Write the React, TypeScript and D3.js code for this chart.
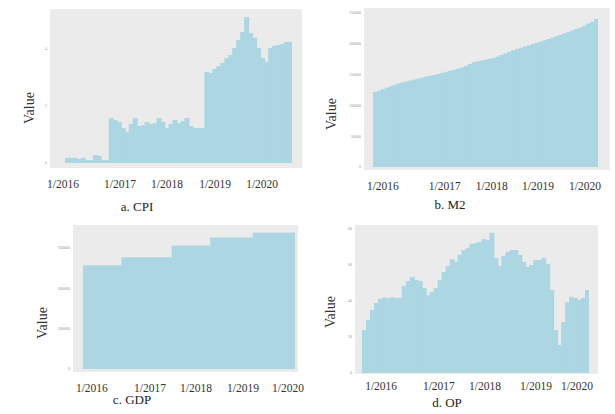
import * as d3 from "d3";

const dateLabels = ["1/2016", "1/2017", "1/2018", "1/2019", "1/2020"];

// a. CPI, monthly
const cpiValues = [
  0.18, 0.18, 0.18, 0.14, 0.18, 0.1, 0.1, 0.28, 0.25, 0.1, 0.1,
  1.58, 1.51, 1.44, 1.23, 1.09, 1.37, 1.58, 1.3, 1.33, 1.44,
  1.37, 1.4, 1.58, 1.44, 1.23, 1.37, 1.51, 1.4, 1.47, 1.58,
  1.3, 1.23, 1.23, 1.23,
  3.19, 3.16, 3.3, 3.4, 3.51, 3.68, 3.79, 4.04, 4.32, 4.6,
  5.12, 4.56, 4.39, 4.04, 3.68, 3.54, 4.04, 4.11, 4.14, 4.18,
  4.25, 4.25,
];
const cpiTickAt = [-0.5, 13.8, 25.6, 37.7, 49.5];
const cpiYTicks = [0, 2, 4];

// b. M2, monthly
const m2Values = [
  121800, 124000, 126500, 128800, 131200, 133500, 135900, 137500, 139000, 140500,
  142000, 143500, 145000, 146600, 148000, 149300, 151100, 152800, 154500, 156200,
  157800, 159500, 161300, 164000, 167200, 170400, 171700, 173000, 174300, 175600,
  177000, 179200, 181800, 184400, 187000, 189600, 191700, 193700, 195600, 197600,
  199600, 201600, 203600, 205800, 207800, 210100, 212400, 214700, 217000, 219400,
  221700, 224000, 226300, 229400, 233000, 235700, 240300,
];
const m2TickAt = [2.5, 18.2, 30.1, 41.8, 53.7];
const m2YTicks = [0, 50000, 100000, 150000, 200000, 250000];

// c. GDP, yearly steps (month index where each level starts)
const gdpBreaks = [0, 10, 23, 33, 44, 55];
const gdpValues = [771000, 831000, 918000, 978000, 1014000];
const gdpTickAt = [2.3, 17.4, 29.3, 41.5, 53.2];
const gdpYTicks = [0, 300000, 600000, 900000];

// d. OP, monthly
const opValues = [
  23.9, 29.4, 35.0, 38.9, 41.2, 41.9, 41.5, 42.0, 41.6, 41.8,
  48.3, 51.1, 53.3, 51.7, 51.1, 47.2, 43.3, 45.0, 47.2, 51.7,
  56.1, 59.4, 63.3, 61.7, 65.6, 68.3, 69.4, 71.7, 72.2, 72.8,
  74.4, 73.9, 77.8, 63.9, 59.4, 65.0, 67.2, 68.3, 68.3, 65.6,
  61.7, 58.9, 60.0, 62.8, 62.8, 63.9, 60.6, 46.1, 23.9, 15.6,
  28.3, 39.4, 42.2, 41.7, 40.6, 41.7, 46.1,
];
const opTickAt = [4.8, 19.3, 30.9, 43.7, 54.0];
const opYTicks = [0, 20, 40, 60, 80];

const FONT = "'Liberation Serif', 'Times New Roman', serif";
const BG = "#ebebeb";
const FILL = "#add6e3";

type PanelProps = {
  values: number[];
  breaks?: number[];
  tickAt: number[];
  yTicks: number[];
  caption: string;
  bg: [number, number, number, number]; // x0, y0, x1, y1
  dataX: [number, number];
  yRange: [number, number];
  tickY: number;
  captionPos: [number, number];
  valuePos: [number, number];
};

function Panel(p: PanelProps) {
  const n = p.breaks ? p.breaks[p.breaks.length - 1] : p.values.length;
  const x = d3.scaleLinear().domain([0, n]).range(p.dataX);
  const yMax = p.yTicks[p.yTicks.length - 1];
  const y = d3.scaleLinear().domain([0, yMax]).range(p.yRange);
  const [bx0, by0, bx1, by1] = p.bg;

  return (
    <g>
      <rect x={bx0} y={by0} width={bx1 - bx0} height={by1 - by0} fill={BG} />
      {p.values.map((v, i) => {
        const s = p.breaks ? p.breaks[i] : i;
        const e = p.breaks ? p.breaks[i + 1] : i + 1;
        const last = i === p.values.length - 1;
        return (
          <rect
            key={i}
            x={x(s)}
            y={y(v)}
            width={x(e) - x(s) + (last ? 0 : 1)}
            height={y(0) - y(v)}
            fill={FILL}
          />
        );
      })}
      {p.yTicks.map((t) => (
        <text
          key={t}
          x={bx0 - 3}
          y={y(t)}
          dy="0.35em"
          textAnchor="end"
          fontSize={4}
          fill="#999"
          fontFamily={FONT}
        >
          {t}
        </text>
      ))}
      {dateLabels.map((lab, i) => (
        <text
          key={lab}
          x={x(p.tickAt[i])}
          y={p.tickY}
          textAnchor="middle"
          fontSize={11.5}
          fill="#333"
          fontFamily={FONT}
        >
          {lab}
        </text>
      ))}
      <text
        transform={`translate(${p.valuePos[0]},${p.valuePos[1]}) rotate(-90)`}
        textAnchor="middle"
        dy="0.35em"
        fontSize={14}
        fill="#333"
        fontFamily={FONT}
      >
        Value
      </text>
      <text
        x={p.captionPos[0]}
        y={p.captionPos[1]}
        textAnchor="middle"
        fontSize={13}
        fill="#222"
        fontFamily={FONT}
      >
        {p.caption}
      </text>
    </g>
  );
}

export default function App() {
  return (
    <svg
      width={615}
      height={414}
      style={{ position: "absolute", left: 0, top: 0, background: "#fff" }}
    >
      <Panel
        values={cpiValues}
        tickAt={cpiTickAt}
        yTicks={cpiYTicks}
        caption="a. CPI"
        bg={[50, 9, 302, 168]}
        dataX={[65, 292]}
        yRange={[163, 49]}
        tickY={188}
        captionPos={[137, 211]}
        valuePos={[29, 108]}
      />
      <Panel
        values={m2Values}
        tickAt={m2TickAt}
        yTicks={m2YTicks}
        caption="b. M2"
        bg={[364, 8, 610, 170]}
        dataX={[373, 598]}
        yRange={[167, 13]}
        tickY={190}
        captionPos={[450, 209]}
        valuePos={[331, 114]}
      />
      <Panel
        values={gdpValues}
        breaks={gdpBreaks}
        tickAt={gdpTickAt}
        yTicks={gdpYTicks}
        caption="c. GDP"
        bg={[73, 225, 298, 372]}
        dataX={[83, 295]}
        yRange={[369, 248]}
        tickY={392}
        captionPos={[132, 404]}
        valuePos={[42, 323]}
      />
      <Panel
        values={opValues}
        tickAt={opTickAt}
        yTicks={opYTicks}
        caption="d. OP"
        bg={[355, 225, 598, 374]}
        dataX={[362, 589]}
        yRange={[373, 229]}
        tickY={390}
        captionPos={[447, 407]}
        valuePos={[330, 312]}
      />
    </svg>
  );
}
